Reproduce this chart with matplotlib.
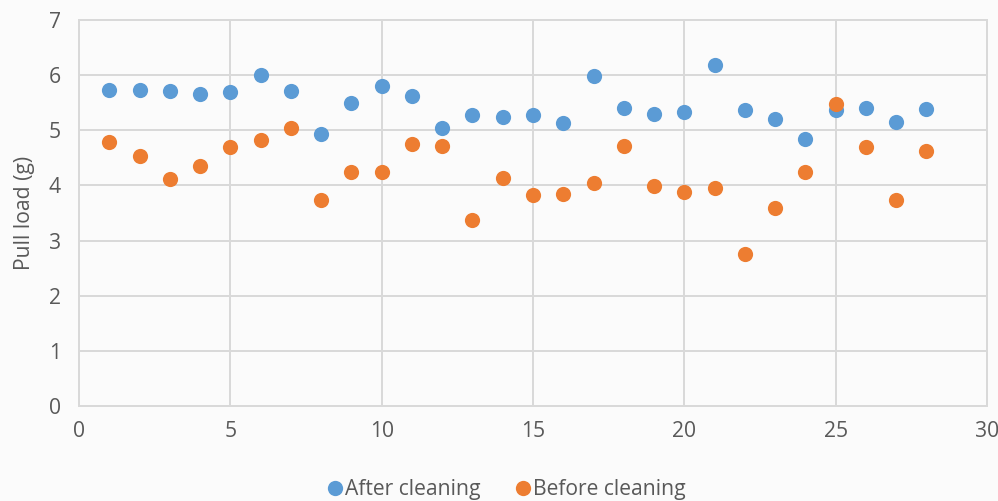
import matplotlib
matplotlib.use("Agg")
import matplotlib.pyplot as plt
from matplotlib.lines import Line2D

sample = list(range(1, 29))
after_cleaning = [5.73, 5.73, 5.72, 5.65, 5.69, 6.01, 5.71, 4.93, 5.49, 5.80,
                  5.62, 5.04, 5.28, 5.24, 5.28, 5.13, 5.98, 5.40, 5.30, 5.33,
                  6.18, 5.37, 5.20, 4.84, 5.37, 5.40, 5.15, 5.39]
before_cleaning = [4.78, 4.53, 4.12, 4.36, 4.69, 4.83, 5.05, 3.73, 4.24, 4.24,
                   4.75, 4.72, 3.37, 4.13, 3.83, 3.84, 4.04, 4.72, 3.99, 3.88,
                   3.95, 2.76, 3.59, 4.24, 5.48, 4.70, 3.74, 4.62]
series_names = ["After cleaning", "Before cleaning"]
colors = ["#5B9BD5", "#ED7D31"]

plt.rcParams['font.family'] = ['Open Sans', 'DejaVu Sans']
text_color = "#595959"
grid_color = "#d9d9d9"
fs = 15.2

fig = plt.figure(figsize=(9.98, 5.01), dpi=100)
fig.patch.set_facecolor("#fbfbfb")
ax = fig.add_axes([0.0792, 0.1896, 0.9098, 0.7704])
ax.set_facecolor("#fbfbfb")

ax.scatter(sample, after_cleaning, s=120, color=colors[0], linewidths=0, zorder=3)
ax.scatter(sample, before_cleaning, s=120, color=colors[1], linewidths=0, zorder=4)

ax.set_xlim(0, 30)
ax.set_ylim(0, 7)
ax.set_xticks(range(0, 31, 5))
ax.set_yticks(range(0, 8))
ax.grid(True, color=grid_color, linewidth=1.4, zorder=0)
for sp in ax.spines.values():
    sp.set_color(grid_color)
    sp.set_linewidth(1.4)
ax.tick_params(length=0, colors=text_color, labelsize=fs)
ax.tick_params(axis='y', pad=13)
ax.tick_params(axis='x', pad=11)
ax.set_ylabel("Pull load (g)", color=text_color, fontsize=fs, labelpad=10)

handles = [Line2D([], [], linestyle='none', marker='o', markersize=11,
                  markerfacecolor=c, markeredgewidth=0) for c in colors]
fig.legend(handles, series_names, loc='center', bbox_to_anchor=(0.505, 0.022),
           ncol=2, frameon=False, fontsize=fs, labelcolor=text_color,
           handletextpad=-0.1, columnspacing=1.4, handlelength=1.2)

fig.savefig("out.png", dpi=100, facecolor=fig.get_facecolor())
